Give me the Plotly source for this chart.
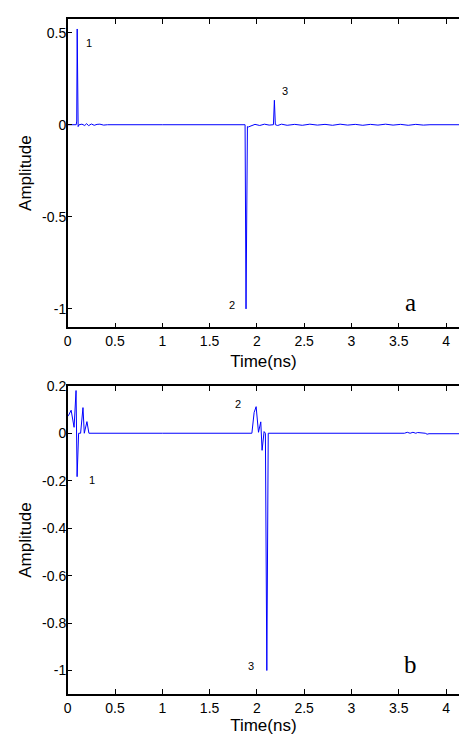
import plotly.graph_objects as go

# ---------------- data ----------------
# Panel a
t_a = [0.0, 0.08, 0.09, 0.095, 0.100, 0.110, 0.120, 0.15, 0.18, 0.20, 0.22, 0.25, 0.28, 0.31, 0.34, 0.38, 0.42,
       1.00, 1.86, 1.875, 1.885, 1.900, 1.91, 1.94, 1.98, 2.03, 2.08, 2.13, 2.175, 2.185, 2.195, 2.22, 2.26,
       2.32, 2.40, 2.48, 2.56, 2.64, 2.72, 2.80, 2.88, 2.96, 3.04, 3.12, 3.20, 3.28, 3.36, 3.44, 3.52,
       3.60, 3.68, 3.76, 3.83, 4.20]
v_a = [0.0, 0.0, 0.0, 0.02, 0.52, -0.01, 0.0, 0.003, -0.004, 0.006, -0.005, 0.004, -0.003, 0.002, 0.003, -0.002, 0.0,
       0.0, 0.0, 0.0, -1.0, -0.01, -0.012, -0.006, 0.002, -0.004, 0.003, -0.002, 0.0, 0.133, 0.0, -0.004, 0.003,
       -0.003, 0.002, -0.003, 0.003, -0.002, 0.002, -0.003, 0.003, -0.002, 0.002, -0.003, 0.002, -0.002, 0.003, -0.002, 0.002,
       -0.003, 0.002, -0.002, 0.0, 0.0]

# Panel b
t_b = [0.0, 0.007, 0.036, 0.067, 0.088, 0.099, 0.115, 0.136, 0.161, 0.175, 0.203, 0.224, 1.0,
       1.947, 1.971, 1.992, 2.017, 2.041, 2.055, 2.076, 2.09, 2.105, 2.12, 2.132, 3.0,
       3.56, 3.59, 3.62, 3.65, 3.68, 3.70, 3.78, 3.80, 3.82, 4.20]
v_b = [0.074, 0.074, 0.097, 0.025, 0.18, -0.183, 0.0, 0.0, 0.108, 0.0, 0.049, 0.0, 0.0,
       0.0, 0.088, 0.112, 0.004, 0.048, -0.072, 0.007, 0.0, -1.0, 0.0, 0.0, 0.0,
       0.0, 0.004, 0.0, 0.004, 0.0, 0.003, 0.0, -0.004, -0.002, -0.002]

x_ticks = [0, 0.5, 1, 1.5, 2, 2.5, 3, 3.5, 4]
x_ticktext = ["0", "0.5", "1", "1.5", "2", "2.5", "3", "3.5", "4"]
ya_ticks = [-1, -0.5, 0, 0.5]
ya_ticktext = ["-1", "-0.5", "0", "0.5"]
yb_ticks = [-1, -0.8, -0.6, -0.4, -0.2, 0, 0.2]
yb_ticktext = ["-1", "-0.8", "-0.6", "-0.4", "-0.2", "0", "0.2"]

# peak labels: (x, y, text)
labels_a = [(0.222, 0.446, "1"), (1.732, -0.978, "2"), (2.293, 0.183, "3")]
labels_b = [(0.252, -0.196, "1"), (1.80, 0.122, "2"), (1.941, -0.979, "3")]

# ---------------- figure ----------------
W, H = 459, 735
left_px = 64.3
a_top, a_bot = 11.0, 323.7
b_top, b_bot = 383.0, 695.7

fig = go.Figure()
fig.add_trace(go.Scatter(x=t_a, y=v_a, mode="lines", line=dict(color="#0000ff", width=1),
                         xaxis="x", yaxis="y", showlegend=False))
fig.add_trace(go.Scatter(x=t_b, y=v_b, mode="lines", line=dict(color="#0000ff", width=1),
                         xaxis="x2", yaxis="y2", showlegend=False))

font = "Liberation Sans, Arial, sans-serif"
axis_common = dict(showgrid=False, zeroline=False, showline=True, linecolor="black", linewidth=1.5,
                   ticks="inside", ticklen=5, tickwidth=1, tickcolor="black",
                   tickfont=dict(family=font, size=14, color="black"))

xdom = [left_px / W, 1.0]
fig.update_layout(
    width=W, height=H, margin=dict(l=0, r=0, t=0, b=0),
    paper_bgcolor="white", plot_bgcolor="white",
    xaxis=dict(domain=xdom, range=[0, 4.137], tickvals=x_ticks, ticktext=x_ticktext, mirror="ticks",
               anchor="y", title=dict(text="Time(ns)", font=dict(family=font, size=17, color="black"), standoff=7),
               **axis_common),
    yaxis=dict(domain=[1 - a_bot / H, 1 - a_top / H], range=[-1.1, 0.575], tickvals=ya_ticks,
               ticktext=ya_ticktext, anchor="x", ticklabelstandoff=-3,
               title=dict(text="Amplitude", font=dict(family=font, size=17, color="black"), standoff=6),
               **axis_common),
    xaxis2=dict(domain=xdom, range=[0, 4.137], tickvals=x_ticks, ticktext=x_ticktext, mirror="ticks",
                anchor="y2", title=dict(text="Time(ns)", font=dict(family=font, size=17, color="black"), standoff=7),
                **axis_common),
    yaxis2=dict(domain=[1 - b_bot / H, 1 - b_top / H], range=[-1.1, 0.2], tickvals=yb_ticks,
                ticktext=yb_ticktext, anchor="x2", ticklabelstandoff=-3,
                title=dict(text="Amplitude", font=dict(family=font, size=17, color="black"), standoff=6),
                **axis_common),
)

anns = []
for (x, y, s) in labels_a:
    anns.append(dict(x=x, y=y, xref="x", yref="y", text=s, showarrow=False,
                     font=dict(family=font, size=11, color="black")))
for (x, y, s) in labels_b:
    anns.append(dict(x=x, y=y, xref="x2", yref="y2", text=s, showarrow=False,
                     font=dict(family=font, size=11, color="black")))
serif = "Liberation Serif, Times New Roman, serif"
anns.append(dict(x=3.62, y=-0.968, xref="x", yref="y", text="a", showarrow=False,
                 font=dict(family=serif, size=25, color="black")))
anns.append(dict(x=3.62, y=-0.975, xref="x2", yref="y2", text="b", showarrow=False,
                 font=dict(family=serif, size=25, color="black")))
fig.update_layout(annotations=anns)

fig.write_html("out.html", config={"displayModeBar": False},
               post_script="document.body.style.margin='0';document.body.style.overflow='hidden';")
